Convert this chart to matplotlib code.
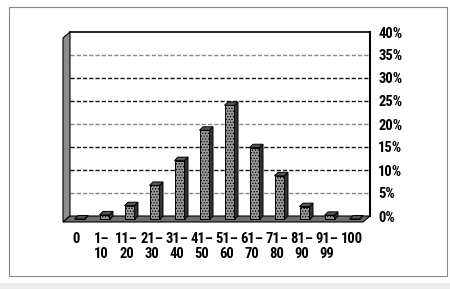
import matplotlib
matplotlib.use("Agg")
import matplotlib.pyplot as plt
from matplotlib.patches import Polygon, Rectangle

# data (percent of respondents per score band)
top_labels = ["0", "1\u2013", "11\u2013", "21\u2013", "31\u2013", "41\u2013",
              "51\u2013", "61\u2013", "71\u2013", "81\u2013", "91\u2013", "100"]
bottom_labels = ["", "10", "20", "30", "40", "50", "60", "70", "80", "90", "99", ""]
values = [0.1, 1.0, 3.0, 7.4, 12.8, 19.4, 24.8, 15.6, 9.5, 2.8, 0.9, 0.1]
yticks = [0, 5, 10, 15, 20, 25, 30, 35, 40]

font = ["Roboto Condensed", "DejaVu Sans"]
plt.rcParams["hatch.linewidth"] = 0.6
plt.rcParams["hatch.color"] = "#505050"

fig = plt.figure(figsize=(4.5, 2.89), dpi=100)
fig.patch.set_facecolor("white")

# outer frame and light strip at the bottom
fig.patches.append(Rectangle((9 / 450, 1 - 276 / 289), 438 / 450, 269 / 289,
                             transform=fig.transFigure, fill=False,
                             edgecolor="#888888", lw=0.8))
fig.patches.append(Rectangle((0, 0), 1, 6 / 289, transform=fig.transFigure,
                             facecolor="#ededed", edgecolor="none"))

# axes = back wall of the 3-D box
ax = fig.add_axes([70 / 450, 1 - 216 / 289, 300 / 450, 184 / 289])
n = len(values)
ax.set_xlim(-0.5, n - 0.5)
ax.set_ylim(0, 40)
for s in ["left", "bottom"]:
    ax.spines[s].set_visible(False)
ax.spines["top"].set_linewidth(1.2)
ax.spines["right"].set_linewidth(1.5)

# depth offsets (data units)
wx, wy = 0.28, 1.3   # wall / floor depth
bx, by = 0.14, 0.75  # bar depth
x0, x1 = -0.5, n - 0.5

# gridlines on back wall
for t in yticks[1:-1]:
    col = "#111111" if t in (10, 15, 25, 30) else "#888888"
    ax.plot([x0, x1], [t, t], color=col, lw=1.0, ls=(0, (3, 1.5)), zorder=1)

# left side wall
ax.add_patch(Polygon([(x0, 0), (x0, 40), (x0 - wx, 40 - wy), (x0 - wx, -wy)],
                     closed=True, facecolor="#8c8c8c", edgecolor="black",
                     lw=0.8, clip_on=False, zorder=2))
# floor
ax.add_patch(Polygon([(x0, 0), (x1, 0), (x1 - wx, -wy), (x0 - wx, -wy)],
                     closed=True, facecolor="#6e6e6e", edgecolor="black",
                     lw=0.8, clip_on=False, zorder=2))

# bars with a little depth
w = 0.4
for i, v in enumerate(values):
    left = i - 0.12 - w / 2
    right = left + w
    base = -by
    topv = v - by
    ax.bar(i - 0.12, v, width=w, bottom=base, facecolor="#9a9a9a",
           edgecolor="black", lw=0.7, hatch="......", clip_on=False, zorder=4)
    ax.add_patch(Polygon([(right, base), (right + bx, 0), (right + bx, v), (right, topv)],
                         closed=True, facecolor="#333333", edgecolor="black",
                         lw=0.7, clip_on=False, zorder=4))
    ax.add_patch(Polygon([(left, topv), (right, topv), (right + bx, v), (left + bx, v)],
                         closed=True, facecolor="#555555", edgecolor="black",
                         lw=0.7, clip_on=False, zorder=4))

# right-hand percent axis
ax.yaxis.tick_right()
ax.set_yticks(yticks)
ax.set_yticklabels([f"{t}%" for t in yticks], fontsize=10.5, fontweight="bold",
                   family=font)
ax.tick_params(axis="y", length=0, pad=6)
ax.set_xticks([])

# two-line category labels under the floor
for i, (a, b) in enumerate(zip(top_labels, bottom_labels)):
    ax.text(i - 0.24, -4.9, a, ha="center", va="center", fontsize=10.5,
            fontweight="bold", family=font)
    if b:
        ax.text(i - 0.24, -8.2, b, ha="center", va="center", fontsize=10.5,
                fontweight="bold", family=font)

fig.savefig("out.png", dpi=100)
